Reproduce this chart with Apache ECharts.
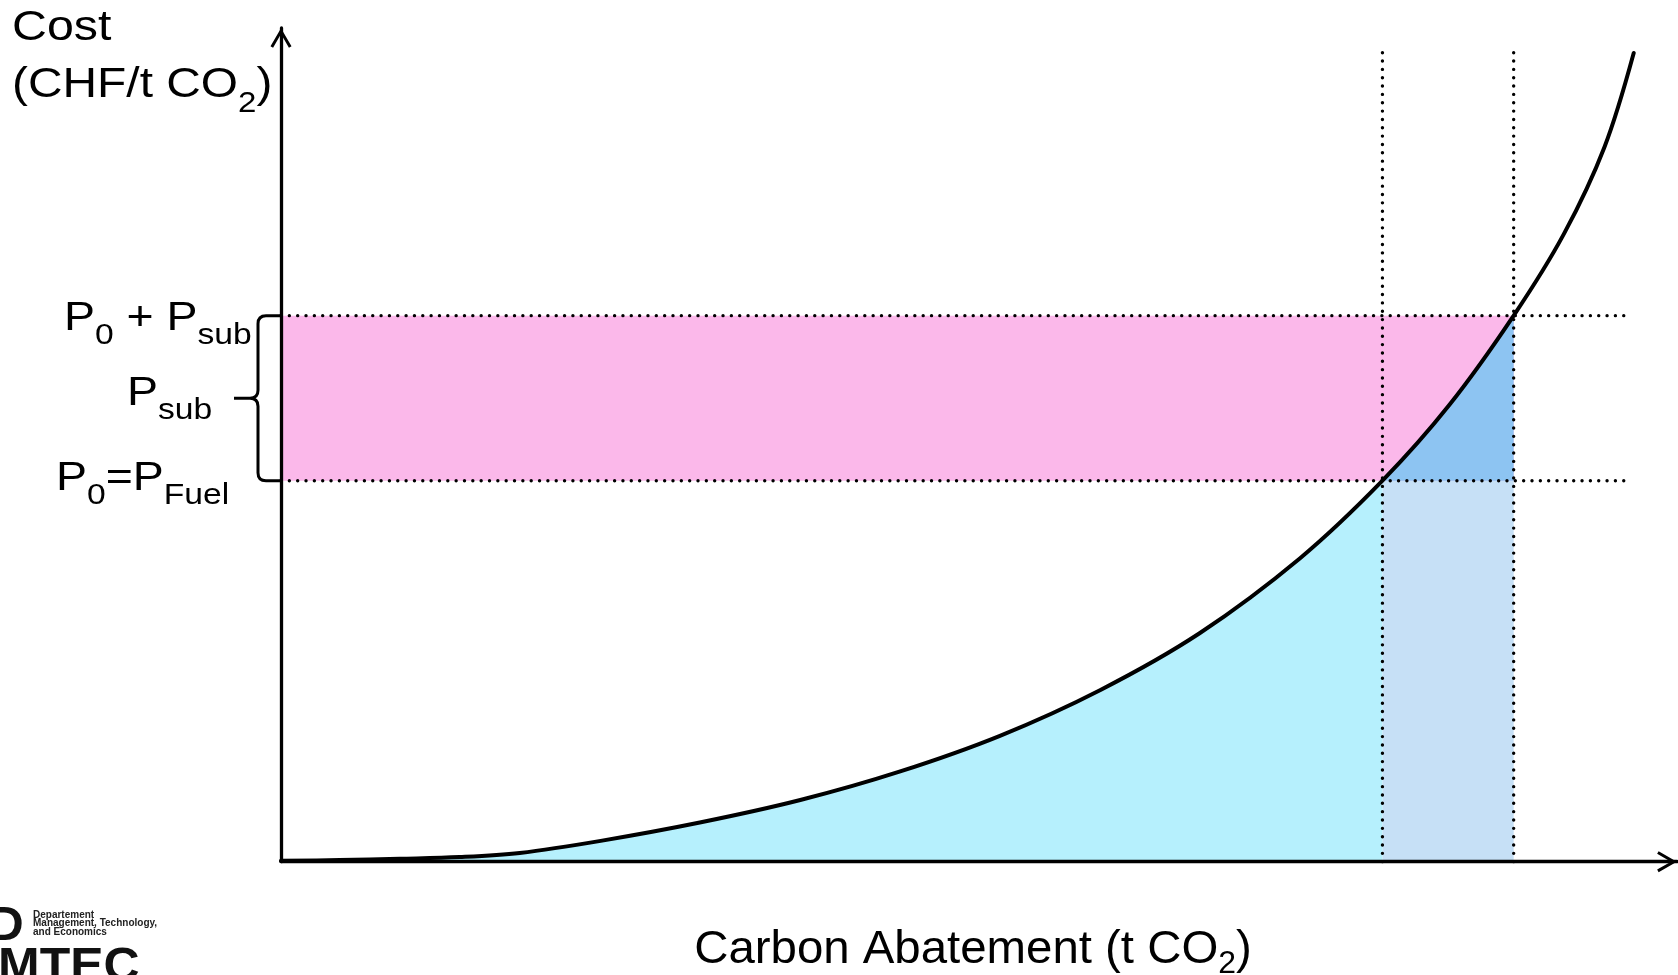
<!DOCTYPE html>
<html>
<head>
<meta charset="utf-8">
<title>Carbon abatement cost curve</title>
<script src="https://cdn.jsdelivr.net/npm/echarts@6/dist/echarts.min.js"></script>
<style>
  html, body { margin: 0; padding: 0; background: #fff; }
  #chart { width: 1678px; height: 975px; }
</style>
</head>
<body>
<div id="chart"></div>
<script>
// Marginal abatement cost curve (abatement in t CO2, cost in CHF/t CO2, arbitrary units 0-100)
const curveX = [0, 4.2, 8.5, 12.8, 17.1, 22.9, 30.0, 37.2, 44.3, 51.5, 58.7, 65.8, 73.0, 78.9, 83.7, 88.3, 91.9, 94.8, 96.9];
const curveY = [0.1, 0.2, 0.35, 0.55, 1.05, 2.5, 4.7, 7.4, 10.8, 15.1, 20.6, 27.4, 36.4, 45.7, 54.8, 65.5, 75.3, 85.7, 97.0];

const fuelPrice = 45.7;        // P0 = P_Fuel
const subsidy = 19.8;          // P_sub
const abatementAtFuel = 78.9;  // where the curve meets P0
const abatementWithSub = 88.3; // where the curve meets P0 + P_sub
const guideEndX = 96.7;
const guideTopY = 98.0;
const axisMaxX = 100;
const axisMaxY = 100;

const FONT = '"Liberation Sans", Arial, Helvetica, sans-serif';
const measureCtx = document.createElement('canvas').getContext('2d');
function textWidth(str, size, weight) {
  measureCtx.font = (weight || 'normal') + ' ' + size + 'px ' + FONT;
  return measureCtx.measureText(str).width;
}

// A run of text pieces on one baseline; 'sub' pieces are smaller and lowered.
function textRun(parts, x, baseline, o) {
  const children = [];
  let cx = 0;
  parts.forEach(function (p) {
    const isSub = p[1] === 'sub';
    const size = isSub ? o.sub : o.main;
    const b = isSub ? baseline + o.drop : baseline;
    children.push({
      type: 'text', x: cx, y: b - 0.3465 * size, silent: true,
      style: {
        text: p[0], font: (o.weight || 'normal') + ' ' + size + 'px ' + FONT,
        fill: o.color || '#000', align: 'left', verticalAlign: 'middle',
        textAlign: 'left', textVerticalAlign: 'middle'
      }
    });
    cx += textWidth(p[0], size, o.weight);
  });
  const sx = o.sx || 1;
  const left = o.center ? x - cx * sx / 2 : x;
  return { type: 'group', x: left, y: 0, scaleX: sx, silent: true, children: children };
}

const curve = curveX.map(function (x, i) { return [x, curveY[i]]; });
const curveToFuel = curve.filter(function (p) { return p[0] <= abatementAtFuel; });
const curveFuelToSub = curve.filter(function (p) { return p[0] >= abatementAtFuel && p[0] <= abatementWithSub; });

const pinkBand = [0, fuelPrice, abatementWithSub, fuelPrice + subsidy];
const extraBand = [abatementAtFuel, 0, abatementWithSub, fuelPrice];

function bandSeries(band, color, z) {
  return {
    type: 'custom', silent: true, z: z, clip: false,
    data: [band],
    renderItem: function (params, api) {
      const a = api.coord([api.value(0), api.value(1)]);
      const b = api.coord([api.value(2), api.value(3)]);
      return {
        type: 'rect',
        shape: { x: a[0], y: b[1], width: b[0] - a[0], height: a[1] - b[1] },
        style: { fill: color }
      };
    }
  };
}

function guideSeries(points) {
  return {
    type: 'line', data: points, symbol: 'none', silent: true, z: 5,
    lineStyle: { color: '#000', width: 3.4, type: [0.01, 8.33], cap: 'round' }
  };
}

const SMOOTH = 0.35;
const arrowPath = 'path://M10,0 L20.6,18.4 L18,19.9 L10,6 L2,19.9 L-0.6,18.4 Z';

function axisCfg(max) {
  return {
    type: 'value', min: 0, max: max, z: 10,
    axisLine: {
      show: true, onZero: false,
      lineStyle: { color: '#000', width: 3.3 },
      symbol: ['none', arrowPath], symbolSize: [21, 20], symbolOffset: [0, -10]
    },
    axisTick: { show: false }, axisLabel: { show: false }, splitLine: { show: false }
  };
}

const option = {
  animation: false,
  backgroundColor: '#ffffff',
  grid: { left: 281, top: 28, right: 1, bottom: 113.3 },
  xAxis: axisCfg(axisMaxX),
  yAxis: axisCfg(axisMaxY),
  series: [
    bandSeries(pinkBand, '#FBB8EA', 1),
    bandSeries(extraBand, '#C6E0F6', 2),
    {
      type: 'line', data: curveToFuel, smooth: SMOOTH, symbol: 'none', silent: true, z: 2,
      lineStyle: { width: 0 }, areaStyle: { color: '#B6F0FD', opacity: 1 }
    },
    {
      type: 'line', data: curveFuelToSub, smooth: SMOOTH, symbol: 'none', silent: true, z: 3,
      lineStyle: { width: 0 }, areaStyle: { color: '#8DC4F2', opacity: 1, origin: fuelPrice }
    },
    guideSeries([[0, fuelPrice], [guideEndX, fuelPrice]]),
    guideSeries([[0, fuelPrice + subsidy], [guideEndX, fuelPrice + subsidy]]),
    guideSeries([[abatementAtFuel, 0], [abatementAtFuel, guideTopY]]),
    guideSeries([[abatementWithSub, 0], [abatementWithSub, guideTopY]]),
    {
      type: 'line', data: curve, smooth: SMOOTH, symbol: 'none', silent: true, z: 6,
      lineStyle: { color: '#000', width: 4, cap: 'round', join: 'round' }
    },
    {
      // brace marking the subsidy band, with the price labels
      type: 'custom', silent: true, z: 7, clip: false,
      data: [[fuelPrice, fuelPrice + subsidy]],
      renderItem: function (params, api) {
        const x0 = api.coord([0, 0])[0];
        const yBot = api.coord([0, api.value(0)])[1];
        const yTop = api.coord([0, api.value(1)])[1];
        const yMid = (yTop + yBot) / 2;
        const ax = x0 - 1, bx = x0 - 23, r = 8, tip = x0 - 47;
        const d = 'M' + ax + ',' + yTop + ' L' + (bx + r) + ',' + yTop +
          ' Q' + bx + ',' + yTop + ' ' + bx + ',' + (yTop + r) +
          ' L' + bx + ',' + (yMid - r) +
          ' Q' + bx + ',' + yMid + ' ' + (bx - r) + ',' + yMid +
          ' L' + tip + ',' + yMid +
          ' M' + (bx - r) + ',' + yMid +
          ' Q' + bx + ',' + yMid + ' ' + bx + ',' + (yMid + r) +
          ' L' + bx + ',' + (yBot - r) +
          ' Q' + bx + ',' + yBot + ' ' + (bx + r) + ',' + yBot +
          ' L' + ax + ',' + yBot;
        const lab = { main: 40, sub: 29, drop: 13, sx: 1.16 };
        return {
          type: 'group',
          children: [
            { type: 'path', shape: { pathData: d }, style: { stroke: '#000', lineWidth: 3, fill: null, lineJoin: 'round' } },
            textRun([['P', 'main'], ['0', 'sub'], [' + P', 'main'], ['sub', 'sub']], x0 - 217, yTop + 17, lab),
            textRun([['P', 'main'], ['sub', 'sub']], x0 - 154, yMid + 10, lab),
            textRun([['P', 'main'], ['0', 'sub'], ['=P', 'main'], ['Fuel', 'sub']], x0 - 225, yBot + 12, lab)
          ]
        };
      }
    }
  ],
  graphic: {
    elements: [
      textRun([['Cost', 'main']], 12, 43, { main: 42, sub: 29, drop: 14, sx: 1.15 }),
      textRun([['(CHF/t CO', 'main'], ['2', 'sub'], [')', 'main']], 12, 100, { main: 42, sub: 29, drop: 14, sx: 1.14 }),
      textRun([['Carbon Abatement (t CO', 'main'], ['2', 'sub'], [')', 'main']], 973, 966, { main: 46, sub: 31, drop: 9, sx: 1.03, center: true }),
      // department logo
      textRun([['D', 'main']], -11, 943, { main: 48, sub: 10, drop: 0, weight: 'bold', color: '#111' }),
      textRun([['Departement', 'main']], 33, 918.5, { main: 10, sub: 10, drop: 0, weight: 'bold', color: '#222' }),
      textRun([['Management, Technology,', 'main']], 33, 927.2, { main: 10, sub: 10, drop: 0, weight: 'bold', color: '#222' }),
      textRun([['and Economics', 'main']], 33, 935.9, { main: 10, sub: 10, drop: 0, weight: 'bold', color: '#222' }),
      textRun([['MTEC', 'main']], -2, 984, { main: 49, sub: 10, drop: 0, weight: 'bold', color: '#111', sx: 1.02 })
    ]
  }
};

const chart = echarts.init(document.getElementById('chart'), null, { renderer: 'canvas' });
chart.setOption(option);
</script>
</body>
</html>
